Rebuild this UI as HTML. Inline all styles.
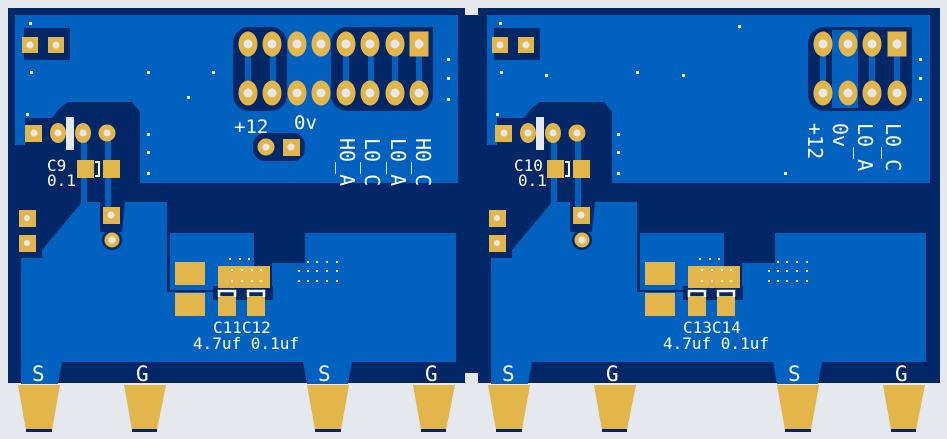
<!DOCTYPE html>
<html><head><meta charset="utf-8"><style>
html,body{margin:0;padding:0;background:#e5e8ec}
svg{display:block}
text{font-family:"DejaVu Sans Mono","Liberation Mono",monospace;fill:#fff}
</style></head><body>
<svg width="947" height="439" viewBox="0 0 947 439" xmlns="http://www.w3.org/2000/svg">
<defs>
<g id="half">
  <!-- lower pour -->
  <polygon fill="#0061bf" points="21,258 42,258 42,250 82,202 100,202 100,232 103,232 122,232 125,202 167,202 167,292 215,292 215,300 272,300 272,263 456,263 456,362 352,362 348,384 307,384 303,362 62,362 58,384 21,384"/>
  <rect x="170" y="233" width="84" height="57" fill="#0061bf"/>
  <rect x="305" y="233" width="151" height="35" fill="#0061bf"/>
  <!-- tabs -->
  <g fill="#e2b64b">
    <polygon points="18,385 60,385 52,430 26,430"/>
    <polygon points="124,385 166,385 157,430 132,430"/>
    <polygon points="307,385 349,385 341,430 315,430"/>
    <polygon points="413,385 455,385 446,430 421,430"/>
  </g>
  <g fill="#022767">
    <rect x="26" y="429" width="26" height="3"/><rect x="132" y="429" width="25" height="3"/>
    <rect x="315" y="429" width="26" height="3"/><rect x="421" y="429" width="25" height="3"/>
  </g>
  <text x="32" y="381" font-size="21" font-family="Liberation Sans">S</text>
  <text x="136" y="381" font-size="21" font-family="Liberation Sans">G</text>
  <text x="318" y="381" font-size="21" font-family="Liberation Sans">S</text>
  <text x="425" y="381" font-size="21" font-family="Liberation Sans">G</text>
  <!-- left pads -->
  <rect x="24" y="28" width="46" height="32" fill="#022767"/>
  <rect x="22" y="37" width="16" height="16" fill="#e2b64b"/><circle cx="30" cy="45" r="3.5" fill="#e5e8ec"/>
  <rect x="48" y="37" width="16" height="16" fill="#e2b64b"/><circle cx="56" cy="45" r="3.5" fill="#e5e8ec"/>
  <!-- regulator area traces -->
  <rect x="81" y="140" width="6" height="65" fill="#0061bf"/>
  <rect x="105" y="140" width="6" height="72" fill="#0061bf"/>
  <rect x="25" y="125" width="17" height="17" fill="#e2b64b"/><circle cx="34" cy="133" r="3.5" fill="#e5e8ec"/>
  <ellipse cx="58" cy="133" rx="8" ry="10" fill="#e2b64b"/><circle cx="58" cy="133" r="3.5" fill="#e5e8ec"/>
  <ellipse cx="83" cy="133" rx="8" ry="10" fill="#e2b64b"/><circle cx="83" cy="133" r="3.5" fill="#e5e8ec"/>
  <circle cx="107" cy="133" r="8.5" fill="#e2b64b"/><circle cx="107" cy="133" r="3.5" fill="#e5e8ec"/>
  <rect x="66" y="117" width="8" height="33" fill="#e5e8ec"/>
  <rect x="77" y="160" width="17" height="18" fill="#e2b64b"/>
  <rect x="103" y="160" width="17" height="18" fill="#e2b64b"/>
  <path d="M95,162 h4 v14 h-4" stroke="#fff" stroke-width="2" fill="none"/>
  <rect x="103" y="207" width="17" height="17" fill="#e2b64b"/><circle cx="111" cy="215" r="3.5" fill="#e5e8ec"/>
  <circle cx="112" cy="240" r="10" fill="#022767"/>
  <circle cx="112" cy="240" r="7.5" fill="#e2b64b"/><circle cx="112" cy="240" r="3.5" fill="#e5e8ec"/>
  <rect x="19" y="210" width="17" height="17" fill="#e2b64b"/><circle cx="27" cy="218" r="3" fill="#e5e8ec"/>
  <rect x="19" y="235" width="17" height="17" fill="#e2b64b"/><circle cx="27" cy="243" r="3" fill="#e5e8ec"/>
  <!-- caps lower -->
  <rect x="213" y="286" width="60" height="14" fill="#022767"/>
  <rect x="175" y="262" width="30" height="23" fill="#e2b64b"/>
  <rect x="175" y="293" width="30" height="23" fill="#e2b64b"/>
  <rect x="218" y="266" width="52" height="22" fill="#e2b64b"/>
  <rect x="218" y="296" width="18" height="20" fill="#e2b64b"/>
  <rect x="247" y="296" width="18" height="20" fill="#e2b64b"/>
  <path d="M219,297 v-6 h16 v6 M248,297 v-6 h16 v6" stroke="#fff" stroke-width="2.5" fill="none"/>
  <g fill="#fff">
    <rect x="229" y="258" width="2" height="2"/><rect x="239" y="258" width="2" height="2"/><rect x="248" y="258" width="2" height="2"/>
    <rect x="231" y="269" width="2" height="2"/><rect x="241" y="269" width="2" height="2"/><rect x="251" y="269" width="2" height="2"/><rect x="260" y="269" width="2" height="2"/>
    <rect x="231" y="280" width="2" height="2"/><rect x="241" y="280" width="2" height="2"/><rect x="251" y="280" width="2" height="2"/><rect x="260" y="280" width="2" height="2"/>
    <rect x="307" y="261" width="2" height="2"/><rect x="316" y="261" width="2" height="2"/><rect x="326" y="261" width="2" height="2"/><rect x="336" y="261" width="2" height="2"/>
    <rect x="298" y="270" width="2" height="2"/><rect x="307" y="270" width="2" height="2"/><rect x="316" y="270" width="2" height="2"/><rect x="326" y="270" width="2" height="2"/><rect x="336" y="270" width="2" height="2"/>
    <rect x="298" y="280" width="2" height="2"/><rect x="307" y="280" width="2" height="2"/><rect x="316" y="280" width="2" height="2"/><rect x="326" y="280" width="2" height="2"/><rect x="336" y="280" width="2" height="2"/>
    <rect x="147" y="133" width="3" height="3"/><rect x="147" y="151" width="3" height="3"/><rect x="147" y="172" width="3" height="3"/>
    <rect x="30" y="71" width="3" height="3"/><rect x="29" y="22" width="3" height="3"/><rect x="26" y="113" width="3" height="3"/>
  </g>
  <!-- bottom corner notch -->
</g>
<g id="pin"><ellipse rx="9.5" ry="12.5" fill="#e2b64b"/><circle r="4.5" fill="#e5e8ec"/></g>
<g id="spin"><rect x="-9.5" y="-12.5" width="19" height="25" fill="#e2b64b"/><circle r="4.5" fill="#e5e8ec"/></g>
</defs>
<rect x="8" y="8" width="932" height="375" fill="#022767"/>
<rect x="465" y="8" width="13" height="7" fill="#e5e8ec"/>
<rect x="465" y="373" width="13" height="12" fill="#e5e8ec"/>
<rect x="940" y="8" width="7" height="375" fill="#e5e8ec"/>

<!-- LEFT top pour -->
<polygon fill="#0061bf" points="15,15 458,15 458,183 140,183 140,112 132,102 68,102 60,108 52,118 25,118 25,145 15,145"/>
<!-- RIGHT top pour -->
<polygon fill="#0061bf" points="487,15 930,15 930,183 612,183 612,112 604,102 540,102 532,108 524,118 497,118 497,145 487,145"/>

<use href="#half"/>
<g transform="translate(470,0)"><use href="#half"/></g>
<!-- hide extra right side of right half -->
<rect x="926" y="183" width="14" height="200" fill="#022767"/>

<!-- left header -->
<rect x="233" y="27" width="54" height="84" rx="16" fill="#022767"/>
<rect x="331" y="27" width="102" height="84" rx="16" fill="#022767"/>
<rect x="405" y="27" width="28" height="40" fill="#022767"/>
<g fill="#0061bf">
  <rect x="245" y="44" width="6" height="49"/><rect x="270" y="44" width="6" height="49"/>
  <rect x="343" y="44" width="6" height="49"/><rect x="368" y="44" width="6" height="49"/>
  <rect x="392" y="44" width="6" height="49"/><rect x="416" y="44" width="6" height="49"/>
</g>
<use href="#pin" x="248" y="44"/><use href="#pin" x="272" y="44"/><use href="#pin" x="297" y="44"/><use href="#pin" x="321" y="44"/>
<use href="#pin" x="346" y="44"/><use href="#pin" x="370" y="44"/><use href="#pin" x="395" y="44"/><use href="#spin" x="419" y="44"/>
<use href="#pin" x="248" y="93"/><use href="#pin" x="272" y="93"/><use href="#pin" x="297" y="93"/><use href="#pin" x="321" y="93"/>
<use href="#pin" x="346" y="93"/><use href="#pin" x="370" y="93"/><use href="#pin" x="395" y="93"/><use href="#pin" x="419" y="93"/>
<rect x="253" y="133" width="52" height="28" rx="12" fill="#022767"/>
<circle cx="266" cy="147" r="8.5" fill="#e2b64b"/><circle cx="266" cy="147" r="3.5" fill="#e5e8ec"/>
<rect x="283" y="139" width="17" height="17" fill="#e2b64b"/><circle cx="291" cy="147" r="3.5" fill="#e5e8ec"/>
<g fill="#fff"><rect x="147" y="71" width="3" height="3"/><rect x="187" y="96" width="3" height="3"/><rect x="212" y="71" width="3" height="3"/>
<rect x="447" y="58" width="3" height="3"/><rect x="447" y="77" width="3" height="3"/><rect x="447" y="98" width="3" height="3"/></g>
<text x="234" y="133" font-size="19" font-family="Liberation Sans">+12</text>
<text x="294" y="129" font-size="19">0v</text>
<g font-size="20">
<text transform="translate(340,138) rotate(90)">H0_A</text>
<text transform="translate(365,138) rotate(90)">L0_C</text>
<text transform="translate(391,138) rotate(90)">L0_A</text>
<text transform="translate(416,138) rotate(90)">H0_C</text>
</g>
<text x="47" y="171" font-size="16">C9</text>
<text x="47" y="186" font-size="16">0.1</text>
<text x="213" y="333" font-size="16">C11C12</text>
<text x="193" y="349" font-size="16">4.7uf 0.1uf</text>

<!-- right header -->
<rect x="808" y="27" width="104" height="84" rx="16" fill="#022767"/>
<rect x="880" y="27" width="32" height="35" fill="#022767"/>
<rect x="832" y="30" width="26" height="78" fill="#0061bf"/>
<g fill="#0061bf">
  <rect x="820" y="44" width="6" height="49"/><rect x="869" y="44" width="6" height="49"/><rect x="894" y="44" width="6" height="49"/>
</g>
<rect x="859" y="60" width="8" height="20" fill="#022767"/>
<use href="#pin" x="823" y="44"/><use href="#pin" x="848" y="44"/><use href="#pin" x="872" y="44"/><use href="#spin" x="897" y="44"/>
<use href="#pin" x="823" y="93"/><use href="#pin" x="848" y="93"/><use href="#pin" x="872" y="93"/><use href="#pin" x="897" y="93"/>
<g fill="#fff"><rect x="738" y="25" width="3" height="3"/><rect x="545" y="74" width="3" height="3"/><rect x="636" y="71" width="3" height="3"/><rect x="682" y="74" width="3" height="3"/>
<rect x="919" y="58" width="3" height="3"/><rect x="919" y="77" width="3" height="3"/><rect x="919" y="98" width="3" height="3"/><rect x="784" y="172" width="3" height="3"/></g>
<g font-size="20">
<text transform="translate(808,123) rotate(90)" font-family="Liberation Sans">+12</text>
<text transform="translate(833,123) rotate(90)">0v</text>
<text transform="translate(858,123) rotate(90)">L0_A</text>
<text transform="translate(886,123) rotate(90)">L0_C</text>
</g>
<text x="514" y="171" font-size="16">C10</text>
<text x="518" y="186" font-size="16">0.1</text>
<text x="683" y="333" font-size="16">C13C14</text>
<text x="663" y="349" font-size="16">4.7uf 0.1uf</text>
</svg>
</body></html>
